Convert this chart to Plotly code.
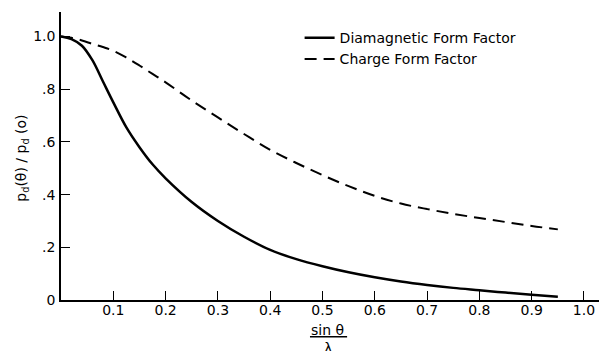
import plotly.graph_objects as go

x_vals = [0, 0.02, 0.04, 0.06, 0.08, 0.1, 0.125, 0.15, 0.175, 0.2, 0.25, 0.3, 0.35, 0.4,
          0.45, 0.5, 0.55, 0.6, 0.65, 0.7, 0.75, 0.8, 0.85, 0.9, 0.95]
diamagnetic = [1.0, 0.99, 0.965, 0.91, 0.83, 0.75, 0.655, 0.58, 0.515, 0.462, 0.372, 0.30, 0.24,
               0.19, 0.155, 0.128, 0.105, 0.086, 0.07, 0.057, 0.046, 0.037, 0.028, 0.02, 0.012]
charge = [1.0, 0.995, 0.985, 0.972, 0.96, 0.946, 0.92, 0.89, 0.858, 0.826, 0.757, 0.693, 0.63,
          0.57, 0.52, 0.474, 0.432, 0.395, 0.366, 0.345, 0.327, 0.311, 0.296, 0.281, 0.268]

x_ticks = [0.1, 0.2, 0.3, 0.4, 0.5, 0.6, 0.7, 0.8, 0.9, 1.0]
x_tick_labels = ["0.1", "0.2", "0.3", "0.4", "0.5", "0.6", "0.7", "0.8", "0.9", "1.0"]
y_ticks = [0, 0.2, 0.4, 0.6, 0.8, 1.0]
y_tick_labels = ["0", ".2", ".4", ".6", ".8", "1.0"]

FONT = "DejaVu Sans"

fig = go.Figure()
fig.add_trace(go.Scatter(x=x_vals, y=diamagnetic, mode="lines", name="Diamagnetic Form Factor",
                         line=dict(color="black", width=2.5, shape="spline", smoothing=1.0)))
fig.add_trace(go.Scatter(x=x_vals, y=charge, mode="lines", name="Charge Form Factor",
                         line=dict(color="black", width=2, dash="12px,7px", shape="spline")))

fig.update_layout(
    width=599, height=343,
    margin=dict(l=53, r=0, t=4, b=51, autoexpand=False),
    paper_bgcolor="white", plot_bgcolor="white",
    font=dict(family=FONT, color="black", size=14),
    legend=dict(x=0.437, y=0.965, xanchor="left", yanchor="top",
                bgcolor="rgba(0,0,0,0)", font=dict(size=14, family=FONT),
                tracegroupgap=0, itemwidth=30),
    xaxis=dict(range=[0, 1.044], showgrid=False, zeroline=False, automargin=False,
               showline=True, linecolor="black", linewidth=1.5,
               tickmode="array", tickvals=x_ticks, ticktext=x_tick_labels,
               ticks="inside", ticklen=9, tickwidth=1, tickcolor="black",
               ticklabelstandoff=-4,
               tickfont=dict(size=14, family=FONT)),
    yaxis=dict(range=[0, 1.093], showgrid=False, zeroline=False, automargin=False,
               showline=True, linecolor="black", linewidth=1.5,
               tickmode="array", tickvals=y_ticks, ticktext=y_tick_labels,
               ticks="inside", ticklen=9, tickwidth=1, tickcolor="black",
               ticklabelstandoff=1,
               tickfont=dict(size=14, family=FONT)),
)

# y-axis title
fig.add_annotation(text="p<sub>d</sub>(θ) / p<sub>d</sub> (o)", xref="paper", yref="paper",
                   x=-0.072, y=0.493, textangle=-90, showarrow=False,
                   xanchor="center", yanchor="middle", font=dict(size=14, family=FONT))
# x-axis title as fraction
fig.add_annotation(text="sin θ", xref="paper", yref="paper", x=0.489, y=-0.104,
                   showarrow=False, xanchor="center", yanchor="middle",
                   font=dict(size=14, family=FONT))
fig.add_annotation(text="λ", xref="paper", yref="paper", x=0.489, y=-0.165,
                   showarrow=False, xanchor="center", yanchor="middle",
                   font=dict(size=14, family=FONT))
fig.add_shape(type="line", xref="paper", yref="paper", x0=0.456, x1=0.524,
              y0=-0.128, y1=-0.128, line=dict(color="black", width=1.5))

fig.write_html("out.html")
